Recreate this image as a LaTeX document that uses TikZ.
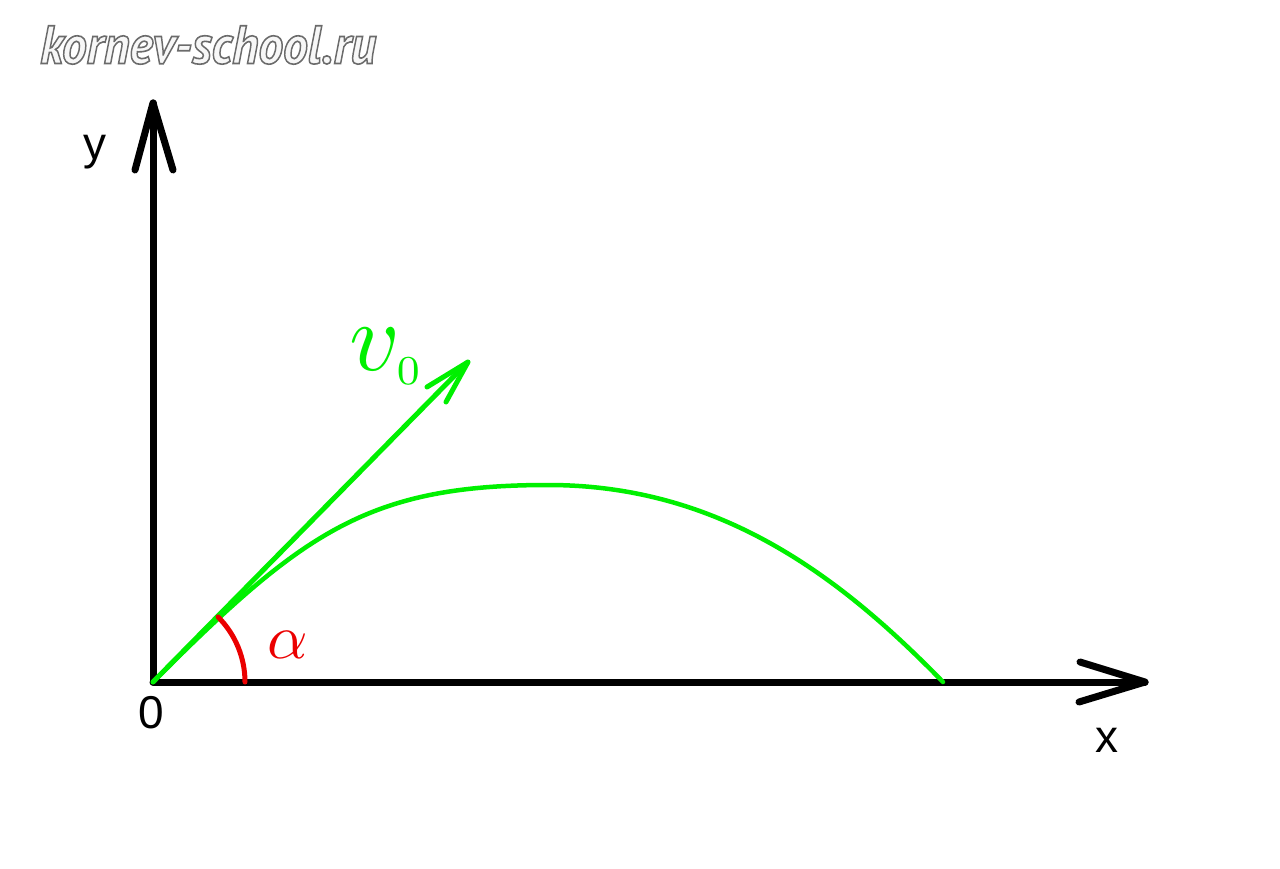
\documentclass[tikz,border=0pt]{standalone}
\usepackage{fontspec}
\setsansfont{Liberation Sans}
\newfontfamily\wmfont{PT Sans}
\definecolor{vgreen}{RGB}{0,240,0}
\definecolor{ared}{RGB}{235,0,0}
\newcommand{\wmtext}{kornev-school.ru}
\newcommand{\outlined}[1]{{\color{gray!6}%
  \special{pdf:literal direct 0.42 G 2 Tr 1.6 w}#1\special{pdf:literal direct 0 Tr}}}
\begin{document}
\begin{tikzpicture}[x=1pt,y=-1pt,
  axis/.style={line width=7pt,black,line cap=round,line join=round},
  vec/.style={line width=5pt,vgreen,line cap=round,line join=round},
  angarc/.style={line width=5pt,ared,line cap=round},
  axlabel/.style={font=\sffamily\fontsize{46}{46}\selectfont,inner sep=0pt,anchor=base},
  wm/.style={font=\wmfont\bfseries\itshape\fontsize{54}{54}\selectfont,inner sep=0pt,anchor=base west,xscale=0.92}]
\useasboundingbox (0,0) rectangle (1280,869);
% watermark
\node[wm] (wmark) at (40,63.5) {\outlined{\wmtext}};
% coordinates
\coordinate (O) at (153,682);
\coordinate (ytip) at (153,103);
\coordinate (yb1) at (135,170);
\coordinate (yb2) at (173,170);
\coordinate (xtip) at (1145,682);
\coordinate (xb1) at (1080,662);
\coordinate (xb2) at (1079,702);
\coordinate (vtip) at (468,362);
\coordinate (vb1) at (427,387);
\coordinate (vb2) at (446,402);
\coordinate (peak) at (548,485);
\coordinate (land) at (943,682);
% axes
\draw[axis] (O) -- (ytip);
\draw[axis] (yb1) -- (ytip) -- (yb2);
\draw[axis] (O) -- (xtip);
\draw[axis] (xb1) -- (xtip) -- (xb2);
% trajectory
\draw[vec,line width=4.5pt] (O) .. controls (303,532) and (368,485) .. (peak)
  .. controls (718,485) and (838,574) .. (land);
% velocity vector
\draw[vec] (O) -- (vtip);
\draw[vec] (vb1) -- (vtip) -- (vb2);
% angle arc
\draw[angarc] (245,682) arc[start angle=0,end angle=-45,radius=92];
% labels
\node[axlabel] (ylab) at (95,160) {y};
\node[axlabel] (xlab) at (1107,752) {x};
\node[axlabel] (zlab) at (151,728) {0};
\node[inner sep=0pt,anchor=base,text=ared] (alab) at (288,658) {\scalebox{6.3}{$\alpha$}};
\node[inner sep=0pt,anchor=base west,text=vgreen] (vlab) at (349,370) {\scalebox{9.8}{$v_{\scalebox{0.6}{$\scriptstyle 0$}}$}};
\end{tikzpicture}
\end{document}
